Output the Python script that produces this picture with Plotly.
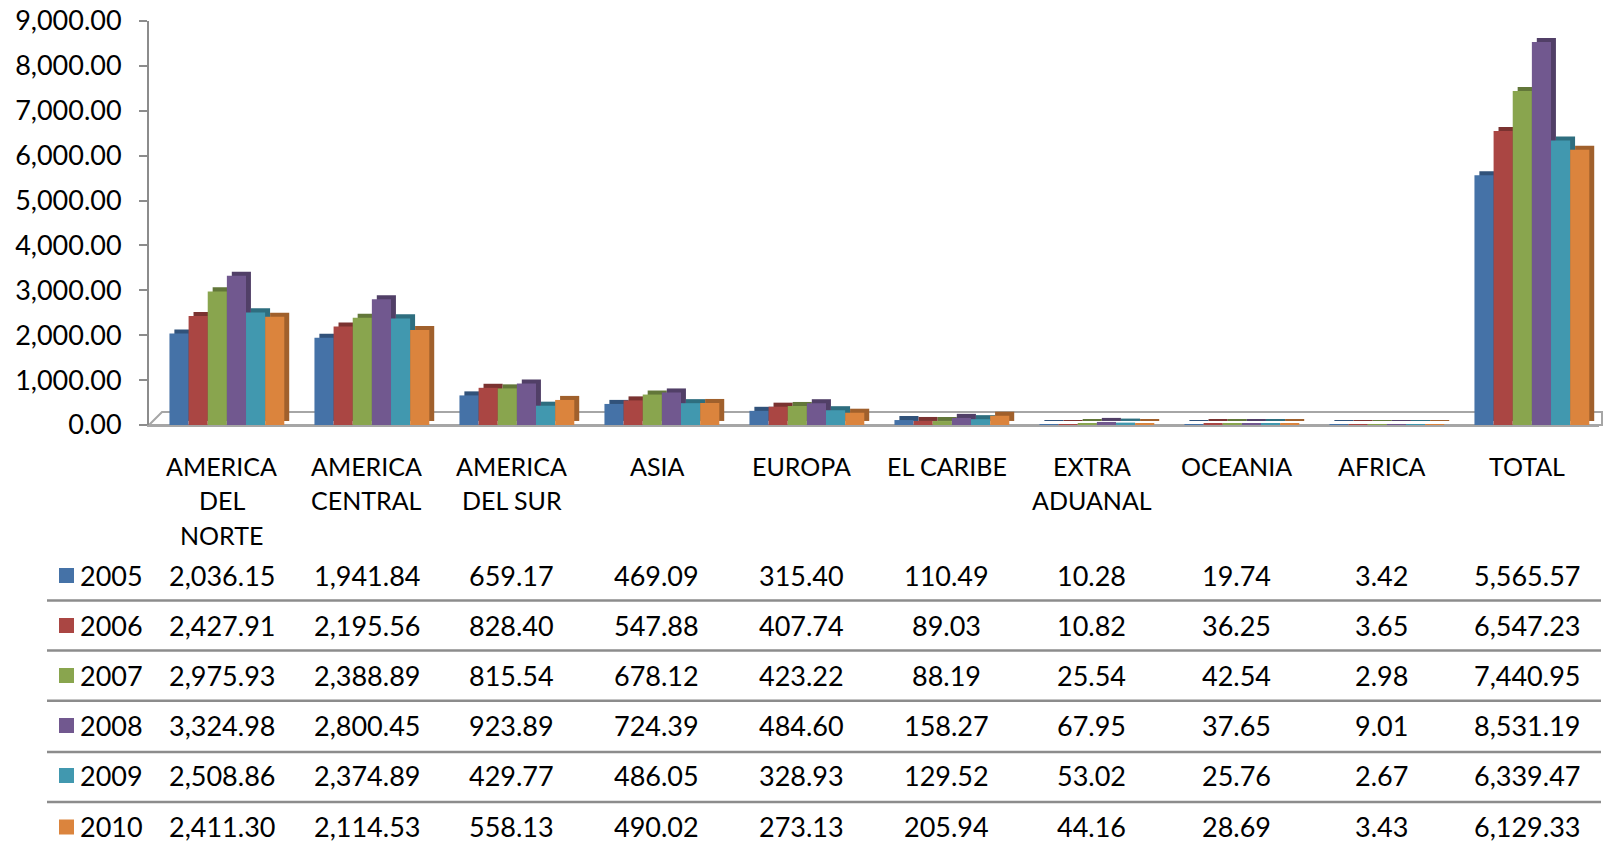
import plotly.graph_objects as go

categories = ["AMERICA DEL NORTE", "AMERICA CENTRAL", "AMERICA DEL SUR", "ASIA", "EUROPA",
              "EL CARIBE", "EXTRA ADUANAL", "OCEANIA", "AFRICA", "TOTAL"]
category_labels = ["AMERICA<br>DEL<br>NORTE", "AMERICA<br>CENTRAL", "AMERICA<br>DEL SUR", "ASIA", "EUROPA",
                   "EL CARIBE", "EXTRA<br>ADUANAL", "OCEANIA", "AFRICA", "TOTAL"]
years = ["2005", "2006", "2007", "2008", "2009", "2010"]

v2005 = [2036.15, 1941.84, 659.17, 469.09, 315.40, 110.49, 10.28, 19.74, 3.42, 5565.57]
v2006 = [2427.91, 2195.56, 828.40, 547.88, 407.74, 89.03, 10.82, 36.25, 3.65, 6547.23]
v2007 = [2975.93, 2388.89, 815.54, 678.12, 423.22, 88.19, 25.54, 42.54, 2.98, 7440.95]
v2008 = [3324.98, 2800.45, 923.89, 724.39, 484.60, 158.27, 67.95, 37.65, 9.01, 8531.19]
v2009 = [2508.86, 2374.89, 429.77, 486.05, 328.93, 129.52, 53.02, 25.76, 2.67, 6339.47]
v2010 = [2411.30, 2114.53, 558.13, 490.02, 273.13, 205.94, 44.16, 28.69, 3.43, 6129.33]
series = [v2005, v2006, v2007, v2008, v2009, v2010]

colors = ["#4572A7", "#AA4643", "#89A54E", "#71588F", "#4198AF", "#DB843D"]
side_colors = ["#31527A", "#7A3230", "#627739", "#513F67", "#2E6E7F", "#A0602C"]

W, H = 1604, 843
ML, MR, MT, MB = 149, 5, 21, 418
FONT = "Lato"
FS_NUM = 27
FS_CAT = 25

# bar geometry in category units (1 category = 145 px)
BAR_W = 0.132
GROUP_OFF = -0.359
DEPTH_X = 0.034
DEPTH_Y = 90.0

def px(p):
    return (p - ML) / (W - ML - MR)

def py(p):
    return (H - MB - p) / (H - MT - MB)

fig = go.Figure()
for k, (yr, vals, c, sc) in enumerate(zip(years, series, colors, side_colors)):
    off = GROUP_OFF + k * BAR_W
    # depth (3D side/top) face
    fig.add_trace(go.Bar(x=categories, y=vals, base=[DEPTH_Y] * len(vals), name=yr + " depth",
                         width=BAR_W, offset=off + DEPTH_X, hoverinfo="skip",
                         marker=dict(color=sc, line=dict(width=0))))
    # front face
    fig.add_trace(go.Bar(x=categories, y=vals, name=yr, width=BAR_W, offset=off,
                         marker=dict(color=c, line=dict(width=0))))

annotations = []
line_y = [465.5, 500, 535]
for cat, lab in zip(categories, category_labels):
    for i, part in enumerate(lab.split("<br>")):
        annotations.append(dict(x=cat, xref="x", y=py(line_y[i]), yref="paper", text=part,
                                showarrow=False, xanchor="center", yanchor="middle",
                                font=dict(family=FONT, size=FS_CAT, color="#000")))

row_y = [575, 625, 675, 725, 775, 826.5]
sep_y = [600.5, 650.6, 700.7, 752, 802]
shapes = []
for r, (yr, vals, c) in enumerate(zip(years, series, colors)):
    annotations.append(dict(x=px(78), xref="paper", y=py(row_y[r]), yref="paper", text=yr,
                            showarrow=False, xanchor="left", yanchor="middle",
                            font=dict(family=FONT, size=FS_NUM, color="#000")))
    shapes.append(dict(type="rect", xref="paper", yref="paper",
                       x0=px(59), x1=px(74), y0=py(row_y[r] + 8), y1=py(row_y[r] - 7),
                       fillcolor=c, line=dict(width=0)))
    for cat, v in zip(categories, vals):
        annotations.append(dict(x=cat, xref="x", y=py(row_y[r]), yref="paper", text=f"{v:,.2f}",
                                showarrow=False, xanchor="center", yanchor="middle",
                                font=dict(family=FONT, size=FS_NUM, color="#000")))

for s in sep_y:
    shapes.append(dict(type="line", xref="paper", yref="paper", x0=px(47), x1=px(1601),
                       y0=py(s), y1=py(s), line=dict(color="#8C8C8C", width=2.5)))

# 3D floor outline
shapes.append(dict(type="path", xref="paper", yref="paper",
                   path=f"M {px(149)} {py(425)} L {px(162)} {py(412)} L {px(1602)} {py(412)} "
                        f"L {px(1602)} {py(425)} Z",
                   line=dict(color="#A6A6A6", width=2), fillcolor="rgba(0,0,0,0)", layer="below"))

fig.update_layout(
    width=W, height=H,
    margin=dict(l=ML, r=MR, t=MT, b=MB, autoexpand=False),
    paper_bgcolor="white", plot_bgcolor="white",
    barmode="overlay",
    showlegend=False,
    font=dict(family=FONT, size=FS_NUM, color="#000"),
    annotations=annotations, shapes=shapes,
    xaxis=dict(showticklabels=False, showgrid=False, zeroline=False, showline=True,
               linecolor="#A6A6A6", linewidth=2, ticks="", range=[-0.5, 9.5]),
    yaxis=dict(range=[0, 9000], dtick=1000, tickformat=",.2f", showgrid=False, zeroline=False,
               showline=True, linecolor="#8C8C8C", linewidth=2, ticks="outside", ticklen=8,
               tickcolor="#8C8C8C", tickwidth=2, ticklabelstandoff=12,
               tickfont=dict(family=FONT, size=FS_NUM, color="#000")),
)

fig.write_html("out.html", config={"displayModeBar": False},
               post_script="document.body.style.margin='0';document.body.style.overflow='hidden';")
